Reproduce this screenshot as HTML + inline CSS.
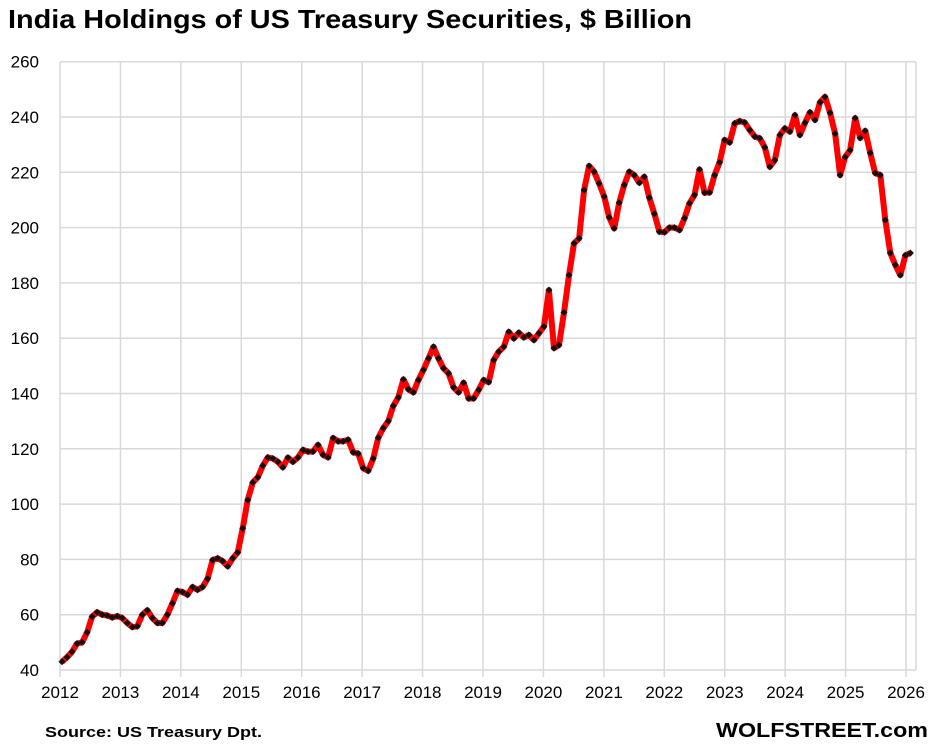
<!DOCTYPE html>
<html><head><meta charset="utf-8"><style>
body{margin:0;background:#fff;width:936px;height:742px;overflow:hidden;font-family:"Liberation Sans",sans-serif}
</style></head><body>
<svg id="s" width="936" height="742" xmlns="http://www.w3.org/2000/svg" font-family="Liberation Sans, sans-serif">
<rect width="936" height="742" fill="#fff"/>
<text x="8" y="28" font-size="26" font-weight="bold" fill="#000" textLength="684" lengthAdjust="spacingAndGlyphs">India Holdings of US Treasury Securities, $ Billion</text>
<g id="grid" stroke="#d9d9d9" stroke-width="1.5"></g>
<g id="lab" font-size="17" fill="#000"></g>
<polyline id="ln" fill="none" stroke="#ff0000" stroke-width="6" stroke-linejoin="round"/>
<g id="mk" fill="#111"></g>
<text x="45" y="737" font-size="15" font-weight="bold" textLength="217" lengthAdjust="spacingAndGlyphs">Source: US Treasury  Dpt.</text>
<text x="716" y="737" font-size="20" font-weight="bold" textLength="212" lengthAdjust="spacingAndGlyphs">WOLFSTREET.com</text>
</svg>
<script>
var d=[43,44.6,46.6,49.6,50,53.6,59.3,60.9,60,59.7,59,59.5,58.8,57,55.5,55.8,60,61.6,58.8,57,57,60,64.1,68.6,68.2,67.2,70,69,70,73,79.8,80.4,79.4,77.5,80.4,82.5,91.2,101.5,107.8,109.7,113.9,116.9,116.5,115.3,113.3,116.8,115.3,116.8,119.6,119,119,121.4,117.8,116.9,123.9,122.7,122.7,123.3,118.7,118.3,113,112,116.5,124,127.5,130,135.5,138.6,145.1,141.5,140.4,144.9,148.5,152.7,156.9,152.7,149.1,147.3,142.2,140.4,143.9,138.2,138.2,141.3,144.9,144.1,152.1,155.1,156.9,162.3,159.9,162,160.3,161.2,159.3,161.8,164.2,177.4,156.4,157.5,169.3,182.8,194.3,196.1,213.6,222.3,220.2,216,211.2,203.7,199.7,209,215.4,220.2,219,216.2,218.4,210.8,205,198.5,198.3,200,200,199.1,203.4,208.8,211.8,221,212.6,212.7,219,223.6,231.7,230.8,237.7,238.5,238,235.3,232.9,232.3,229,222,224.4,233.5,235.9,234.7,240.7,233.5,237.9,241.7,238.9,245.3,247.3,241.5,234,219,225.5,228,239.6,232.4,235,227,219.7,219,202.7,190.8,186.5,182.8,190,190.8];
var NS="http://www.w3.org/2000/svg";
function Y(v){return 670-(v-40)*2.765;}
function X(i){return 62+i*5.02;}
function el(t,a,p){var e=document.createElementNS(NS,t);for(var k in a)e.setAttribute(k,a[k]);p.appendChild(e);return e;}
var g=document.getElementById('grid'),lab=document.getElementById('lab');
for(var v=40;v<=260;v+=20){var y=Y(v);el('line',{x1:60,x2:916,y1:y,y2:y},g);var t=el('text',{x:39,y:y+6,'text-anchor':'end'},lab);t.textContent=v;}
for(var k=0;k<=14;k++){var x=60+k*60.43;el('line',{x1:x,x2:x,y1:Y(260),y2:Y(40)+7},g);var t=el('text',{x:x,y:698,'text-anchor':'middle'},lab);t.textContent=2012+k;}
el('line',{x1:916,x2:916,y1:Y(260),y2:Y(40)},g);
var pts=[],mk=document.getElementById('mk');
for(var i=0;i<d.length;i++){var x=X(i),y=Y(d[i]);pts.push(x.toFixed(1)+','+y.toFixed(1));
el('polygon',{points:(x)+','+(y-3.5)+' '+(x+3.5)+','+y+' '+x+','+(y+3.5)+' '+(x-3.5)+','+y},mk);}
document.getElementById('ln').setAttribute('points',pts.join(' '));
</script>
</body></html>
